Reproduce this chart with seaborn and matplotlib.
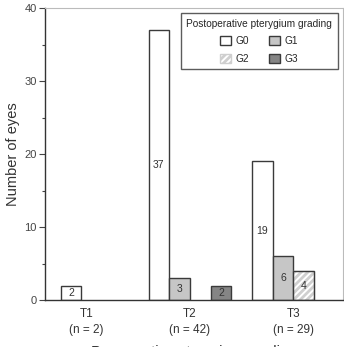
import pandas as pd
import matplotlib
matplotlib.use("Agg")
import matplotlib.pyplot as plt
import seaborn as sns
from matplotlib.patches import Patch, Rectangle
from matplotlib.ticker import MultipleLocator

pre_grades = ["T1", "T2", "T3"]
pre_n = [2, 42, 29]
post_grades = ["G0", "G1", "G2", "G3"]
counts = {
    "G0": [2, 37, 19],
    "G1": [0, 3, 6],
    "G2": [0, 0, 4],
    "G3": [0, 2, 0],
}

face = {"G0": "white", "G1": "#c6c6c6", "G2": "white", "G3": "#858585"}
hatch = {"G0": "", "G1": "", "G2": "/////", "G3": ""}
edge = "#3a3a3a"
hatch_col = "#cfcfcf"

rows = []
for g in post_grades:
    for t, v in zip(pre_grades, counts[g]):
        rows.append({"pre": t, "post": g, "n": v})
df = pd.DataFrame(rows)


def main():
    sns.set_style("ticks")
    plt.rcParams["font.family"] = ["Liberation Sans", "DejaVu Sans"]
    plt.rcParams["hatch.linewidth"] = 2.0

    fig = plt.figure(figsize=(3.44, 3.47), dpi=100)
    ax = fig.add_axes([0.131, 0.135, 0.866, 0.842])

    sns.barplot(data=df, x="pre", y="n", hue="post", order=pre_grades,
                hue_order=post_grades, palette=face, width=0.8,
                edgecolor=edge, linewidth=1.0, ax=ax, legend=False)

    for g, cont in zip(post_grades, ax.containers):
        for i, bar in enumerate(cont):
            v = counts[g][i]
            if v == 0:
                bar.set_visible(False)
                continue
            if pre_grades[i] == "T1":
                # the lone T1 bar sits nearer the group centre
                bar.set_x(bar.get_x() + 0.15)
            if hatch[g]:
                # hatch takes the edge colour, so draw the outline on top
                bar.set_hatch(hatch[g])
                bar.set_edgecolor(hatch_col)
                ax.add_patch(Rectangle((bar.get_x(), 0), bar.get_width(), v,
                                       facecolor="none", edgecolor=edge,
                                       linewidth=1.0, zorder=bar.get_zorder() + 0.1))
            ax.text(bar.get_x() + bar.get_width() / 2, v / 2, str(v),
                    ha="center", va="center", fontsize=7.5, color="#333333",
                    zorder=5)

    ax.set_ylim(0, 40)
    ax.set_xlim(-0.4, 2.48)
    ax.yaxis.set_major_locator(MultipleLocator(10))
    ax.yaxis.set_minor_locator(MultipleLocator(5))
    ax.tick_params(axis="y", which="major", length=4, width=0.8,
                   labelsize=8, colors="#444444", pad=2)
    ax.tick_params(axis="y", which="minor", length=2.5, width=0.8, colors="#444444")
    ax.tick_params(axis="x", length=0, labelsize=8.5, colors="#333333", pad=6)
    ax.set_xticks(range(len(pre_grades)))
    ax.set_xticklabels([f"{t}\n(n = {n})" for t, n in zip(pre_grades, pre_n)],
                       linespacing=1.35)

    for side in ["left", "bottom"]:
        ax.spines[side].set_color("#333333")
        ax.spines[side].set_linewidth(1.0)
    for side in ["top", "right"]:
        ax.spines[side].set_visible(True)
        ax.spines[side].set_color("#bbbbbb")
        ax.spines[side].set_linewidth(0.8)

    ax.set_ylabel("Number of eyes", fontsize=10.5, color="#333333", labelpad=3)
    ax.set_xlabel("Preoperative pterygium grading", fontsize=10.5,
                  color="#333333", labelpad=7)

    handles = []
    for g in post_grades:
        handles.append(Patch(facecolor=face[g],
                             edgecolor=hatch_col if hatch[g] else edge,
                             hatch=hatch[g], label=g))
    # order so G0,G1 on first row and G2,G3 on second
    order = [0, 2, 1, 3]
    leg = ax.legend([handles[i] for i in order], [post_grades[i] for i in order],
                    title="Postoperative pterygium grading", ncol=2,
                    loc="upper right", bbox_to_anchor=(0.983, 0.983),
                    borderaxespad=0,
                    fontsize=7.3, title_fontsize=7.3, frameon=True, fancybox=False,
                    handlelength=1.0, handleheight=1.0, columnspacing=2.0,
                    handletextpad=0.5, borderpad=0.55, labelspacing=0.75)
    leg.get_frame().set_edgecolor("#333333")
    leg.get_frame().set_linewidth(1.0)

    fig.savefig("out.png", dpi=100)


if __name__ == "__main__":
    main()
